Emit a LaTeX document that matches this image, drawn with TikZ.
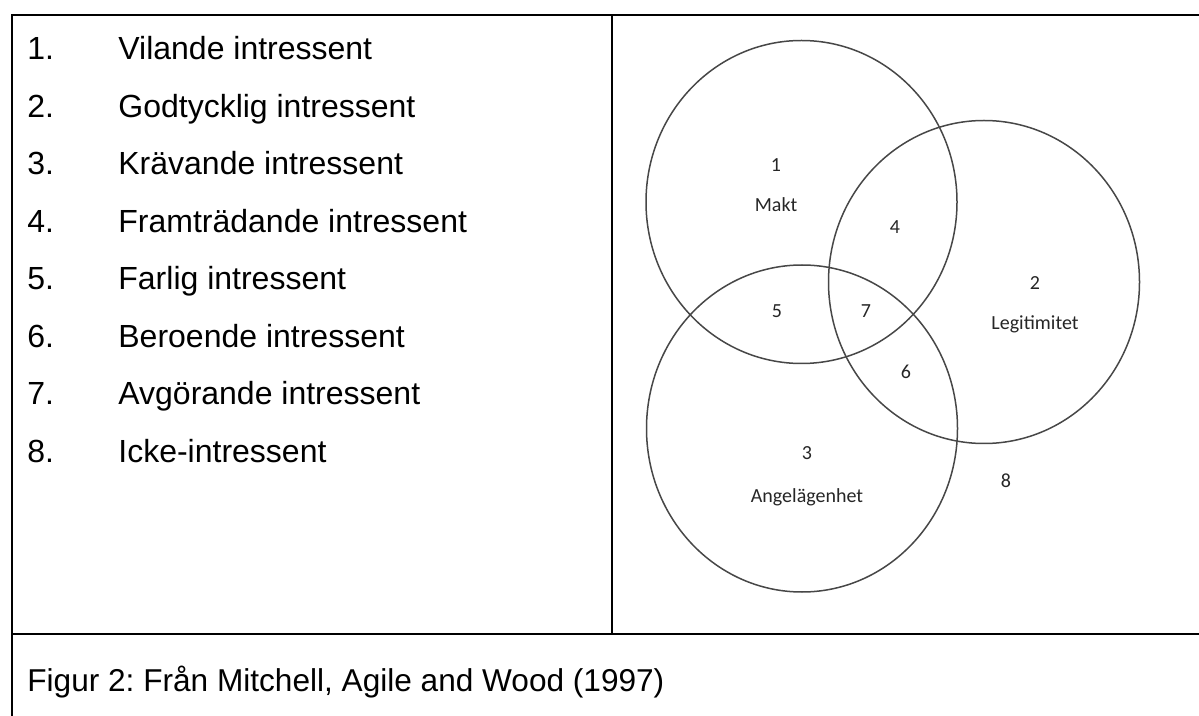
\documentclass[tikz,border=0pt]{standalone}
\usepackage{fontspec}
\setmainfont{Liberation Sans}
\newfontfamily\vennfont{Carlito}
\usetikzlibrary{shapes.geometric}
\begin{document}
\frenchspacing
\begin{tikzpicture}[x=0.5pt,y=-0.5pt,
  rule/.style={line width=1.35pt,black},
  ring/.style={ellipse,draw=black!72,line width=0.75pt,inner sep=0pt,
    minimum width=155.5pt,minimum height=161.5pt},
  num/.style={anchor=base west,inner sep=0pt,font=\fontsize{16}{19}\selectfont},
  entry/.style={anchor=base west,inner sep=0pt,font=\fontsize{16}{19}\selectfont},
  tag/.style={inner sep=0pt,font=\vennfont\fontsize{10}{12}\selectfont,text=black!85}]
\useasboundingbox (0,0) rectangle (1199,716);

% table frame
\coordinate (corner) at (12,15);
\coordinate (topend) at (1210,15);
\coordinate (leftend) at (12,730);
\coordinate (midleft) at (12,634);
\coordinate (midright) at (1210,634);
\coordinate (divtop) at (612,15);
\coordinate (divbot) at (612,634);
\draw[rule] (leftend) -- (corner) -- (topend);
\draw[rule] (midleft) -- (midright);
\draw[rule] (divtop) -- (divbot);

% legend list
\foreach \i/\t [count=\k from 0] in {1/Vilande intressent,2/Godtycklig intressent,
    3/Krävande intressent,4/Framträdande intressent,5/Farlig intressent,
    6/Beroende intressent,7/Avgörande intressent,8/Icke-intressent}{
  \node[num] (n\i) at (27,60+57.5*\k) {\i.};
  \node[entry] (e\i) at (118,60+57.5*\k) {\t};
}

% caption
\node[entry,font=\fontsize{15.8}{19}\selectfont] (cap) at (27,691)
  {Figur 2: Från Mitchell, Agile and Wood (1997)};

% Venn diagram
\node[ring] (makt) at (801.5,202) {};
\node[ring] (legit) at (984,282) {};
\node[ring,minimum height=163.5pt] (angel) at (802,428.5) {};

\node[tag] (l1) at (776,165) {1};
\node[tag] (lmakt) at (776,205) {Makt};
\node[tag] (l4) at (895,227) {4};
\node[tag] (l2) at (1035,283) {2};
\node[tag] (llegit) at (1035,324) {Legitimitet};
\node[tag] (l5) at (777,311) {5};
\node[tag] (l7) at (866,311) {7};
\node[tag] (l6) at (906,372) {6};
\node[tag] (l3) at (807,453) {3};
\node[tag] (langel) at (807,497) {Angelägenhet};
\node[tag] (l8) at (1006,481) {8};
\end{tikzpicture}
\end{document}
